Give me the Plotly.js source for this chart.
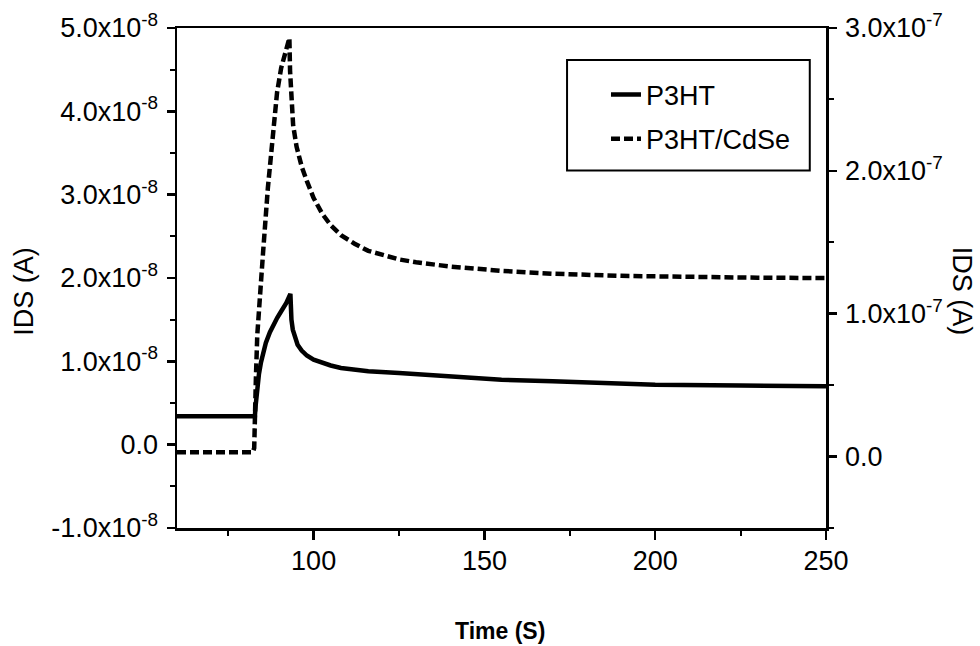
<!DOCTYPE html>
<html>
<head>
<meta charset="utf-8">
<script src="https://cdn.plot.ly/plotly-3.0.1.min.js"></script>
<style>html,body{margin:0;padding:0;background:#fff;}#chart{width:980px;height:646px;}</style>
</head>
<body>
<div id="chart"></div>
<script>
// Time (s)
const timeP3HT = [60, 82.8, 83.0, 83.4, 84.0, 84.6, 85.2, 86.0, 87.2, 88.2, 89.3, 90.2, 91.0, 92.0, 93.2, 93.3, 93.5, 93.9, 94.5, 95.3, 96.5, 98, 100, 102.5, 105, 108, 111, 116, 125, 140, 155, 170, 185, 200, 225, 250];
// IDS (A) for P3HT, left axis
const idsP3HT = [0.34e-8, 0.34e-8, 0.46e-8, 0.66e-8, 0.85e-8, 0.99e-8, 1.10e-8, 1.22e-8, 1.35e-8, 1.44e-8, 1.52e-8, 1.58e-8, 1.63e-8, 1.70e-8, 1.81e-8, 1.62e-8, 1.50e-8, 1.38e-8, 1.28e-8, 1.20e-8, 1.13e-8, 1.07e-8, 1.02e-8, 0.98e-8, 0.95e-8, 0.92e-8, 0.90e-8, 0.88e-8, 0.86e-8, 0.82e-8, 0.78e-8, 0.76e-8, 0.74e-8, 0.72e-8, 0.71e-8, 0.70e-8];

const timeCdSe = [60, 82.2, 82.6, 82.9, 83.1, 83.5, 84.2, 85.2, 86.6, 88.1, 89.3, 90.5, 91.6, 92.4, 92.9, 93.1, 93.4, 94.0, 95.0, 96.5, 98.0, 100, 102.5, 105, 108, 112, 116, 120, 125, 130, 140, 155, 170, 190, 210, 230, 250];
// IDS (A) for P3HT/CdSe, right axis
const idsCdSe = [0.03e-7, 0.03e-7, 0.06e-7, 0.25e-7, 0.55e-7, 0.85e-7, 1.12e-7, 1.43e-7, 1.88e-7, 2.30e-7, 2.55e-7, 2.72e-7, 2.83e-7, 2.89e-7, 2.93e-7, 2.70e-7, 2.50e-7, 2.32e-7, 2.17e-7, 2.03e-7, 1.93e-7, 1.81e-7, 1.70e-7, 1.62e-7, 1.55e-7, 1.49e-7, 1.44e-7, 1.41e-7, 1.38e-7, 1.36e-7, 1.33e-7, 1.30e-7, 1.28e-7, 1.265e-7, 1.257e-7, 1.252e-7, 1.25e-7];

const xTickVals = [100, 150, 200, 250];
const xMinorVals = [75, 125, 175, 225];
const yLeftTickVals = [-1e-8, 0, 1e-8, 2e-8, 3e-8, 4e-8, 5e-8];
const yLeftTickText = ["-1.0x10<sup>-8</sup>", "0.0", "1.0x10<sup>-8</sup>", "2.0x10<sup>-8</sup>", "3.0x10<sup>-8</sup>", "4.0x10<sup>-8</sup>", "5.0x10<sup>-8</sup>"];
const yLeftMinorVals = [-0.5e-8, 0.5e-8, 1.5e-8, 2.5e-8, 3.5e-8, 4.5e-8];
const yRightTickVals = [0, 1e-7, 2e-7, 3e-7];
const yRightTickText = ["0.0", "1.0x10<sup>-7</sup>", "2.0x10<sup>-7</sup>", "3.0x10<sup>-7</sup>"];
const yRightMinorVals = [-0.5e-7, 0.5e-7, 1.5e-7, 2.5e-7];

const FONT = "Liberation Sans, Arial, Helvetica, sans-serif";

const traces = [
  {x: timeP3HT, y: idsP3HT, type: 'scatter', mode: 'lines', name: 'P3HT',
   line: {color: '#000', width: 4.5, shape: 'linear'}, yaxis: 'y', legendgroup: 'a'},
  {x: timeCdSe, y: idsCdSe, type: 'scatter', mode: 'lines', name: 'P3HT/CdSe',
   line: {color: '#000', width: 4.5, dash: '9px,4px'}, yaxis: 'y2', legendgroup: 'b'}
];

const axisCommon = {
  showgrid: false, zeroline: false, showline: true, linecolor: '#000', linewidth: 2.5,
  ticks: 'outside', tickcolor: '#000', tickwidth: 2.5, color: '#000'
};

const layout = {
  width: 980, height: 646,
  paper_bgcolor: '#fff', plot_bgcolor: '#fff',
  margin: {l: 177, r: 154, t: 28, b: 118},
  font: {family: FONT, color: '#000'},
  showlegend: true,
  legend: {x: 0.661, y: 0.915, xanchor: 'left', yanchor: 'top', borderwidth: 0,
           bgcolor: 'rgba(0,0,0,0)', font: {size: 27, family: FONT}, tracegroupgap: 6},
  xaxis: Object.assign({}, axisCommon, {
    range: [60, 250], tickmode: 'array', tickvals: xTickVals, ticklen: 9,
    mirror: true, tickfont: {size: 27, family: FONT}, ticklabelstandoff: -2,
    minor: {tickmode: 'array', tickvals: xMinorVals, ticks: 'outside', ticklen: 5, tickwidth: 2, tickcolor: '#000', showgrid: false}
  }),
  yaxis: Object.assign({}, axisCommon, {
    range: [-1e-8, 5e-8], tickmode: 'array', tickvals: yLeftTickVals, ticktext: yLeftTickText,
    ticklen: 8, tickfont: {size: 27, family: FONT}, ticklabelstandoff: 3,
    minor: {tickmode: 'array', tickvals: yLeftMinorVals, ticks: 'outside', ticklen: 5, tickwidth: 2, tickcolor: '#000', showgrid: false}
  }),
  yaxis2: Object.assign({}, axisCommon, {
    overlaying: 'y', side: 'right',
    range: [-0.5e-7, 3e-7], tickmode: 'array', tickvals: yRightTickVals, ticktext: yRightTickText,
    ticklen: 8, tickfont: {size: 27, family: FONT}, ticklabelstandoff: 3,
    minor: {tickmode: 'array', tickvals: yRightMinorVals, ticks: 'outside', ticklen: 5, tickwidth: 2, tickcolor: '#000', showgrid: false}
  }),
  shapes: [
    {type: 'rect', xref: 'paper', yref: 'paper', x0: 0.601, x1: 0.975, y0: 0.715, y1: 0.936,
     line: {color: '#000', width: 2}, fillcolor: 'rgba(0,0,0,0)', layer: 'above'}
  ],
  annotations: [
    {text: 'IDS (A)', xref: 'paper', yref: 'paper', x: -0.236, y: 0.474, textangle: -90,
     showarrow: false, font: {size: 27, family: FONT}, xanchor: 'center', yanchor: 'middle'},
    {text: 'IDS (A)', xref: 'paper', yref: 'paper', x: 1.21, y: 0.474, textangle: 90,
     showarrow: false, font: {size: 27, family: FONT}, xanchor: 'center', yanchor: 'middle'},
    {text: '<b>Time (S)</b>', xref: 'paper', yref: 'paper', x: 0.498, y: -0.205,
     showarrow: false, font: {size: 23, family: FONT},
     xanchor: 'center', yanchor: 'middle'}
  ]
};

Plotly.newPlot('chart', traces, layout, {staticPlot: true, displayModeBar: false});
</script>
</body>
</html>
